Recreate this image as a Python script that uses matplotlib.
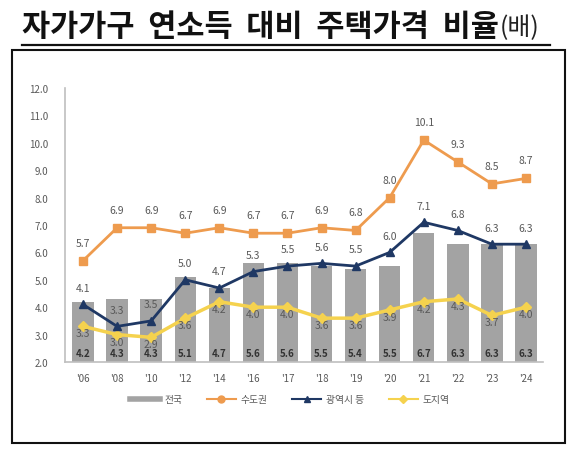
import matplotlib
matplotlib.use('Agg')
import matplotlib.pyplot as plt
import numpy as np
from matplotlib.lines import Line2D
from matplotlib.patches import Rectangle

plt.rcParams['font.family'] = ['Noto Sans CJK KR', 'DejaVu Sans']

# data
years = ["'06", "'08", "'10", "'12", "'14", "'16", "'17", "'18", "'19", "'20", "'21", "'22", "'23", "'24"]
nation = [4.2, 4.3, 4.3, 5.1, 4.7, 5.6, 5.6, 5.5, 5.4, 5.5, 6.7, 6.3, 6.3, 6.3]
capital = [5.7, 6.9, 6.9, 6.7, 6.9, 6.7, 6.7, 6.9, 6.8, 8.0, 10.1, 9.3, 8.5, 8.7]
metro = [4.1, 3.3, 3.5, 5.0, 4.7, 5.3, 5.5, 5.6, 5.5, 6.0, 7.1, 6.8, 6.3, 6.3]
province = [3.3, 3.0, 2.9, 3.6, 4.2, 4.0, 4.0, 3.6, 3.6, 3.9, 4.2, 4.3, 3.7, 4.0]

c_bar = '#a3a3a3'
c_cap = '#ee9b4e'
c_met = '#1f3864'
c_pro = '#f5d24e'
c_txt = '#595959'

fig = plt.figure(figsize=(5.68, 4.6), dpi=100)
ax = fig.add_axes([65/568, 1-363/460, (543-65)/568, (363-89)/460])

x = np.arange(len(years))
ax.bar(x, np.array(nation) - 2, bottom=2, width=0.63, color=c_bar, zorder=1)
ax.plot(x, capital, color=c_cap, lw=2, marker='s', ms=6, zorder=3)
ax.plot(x, metro, color=c_met, lw=2, marker='^', ms=6, zorder=3)
ax.plot(x, province, color=c_pro, lw=2.5, marker='D', ms=5, zorder=2)

# data labels
for i in range(len(years)):
    ax.text(x[i], 2.32, f'{nation[i]:.1f}', ha='center', va='center', fontsize=7,
            color='#333333', fontweight='bold', zorder=4)
    ax.annotate(f'{capital[i]:.1f}', (x[i], capital[i]), xytext=(0, 13), textcoords='offset points',
                ha='center', va='center', fontsize=7.5, color=c_txt, zorder=4)
    ax.annotate(f'{metro[i]:.1f}', (x[i], metro[i]), xytext=(0, 12), textcoords='offset points',
                ha='center', va='center', fontsize=7.5, color=c_txt, zorder=4)
    ax.annotate(f'{province[i]:.1f}', (x[i], province[i]), xytext=(0, -5), textcoords='offset points',
                ha='center', va='center', fontsize=7.5, color=c_txt, zorder=4)

ax.set_xlim(-0.53, 13.5)
ax.set_ylim(2, 12)
ax.set_yticks(np.arange(2, 12.1, 1))
ax.set_yticklabels([f'{v:.1f}' for v in np.arange(2, 12.1, 1)])
ax.set_xticks(x)
ax.set_xticklabels(years)
ax.tick_params(axis='both', length=0, labelsize=7, colors=c_txt)
ax.tick_params(axis='y', pad=12)
ax.tick_params(axis='x', pad=8)
for s in ['top', 'right']:
    ax.spines[s].set_visible(False)
ax.spines['left'].set_color('#bfbfbf')
ax.spines['bottom'].set_color('#bfbfbf')
ax.spines['left'].set_linewidth(1.2)
ax.spines['bottom'].set_linewidth(1.2)

handles = [
    Line2D([], [], color=c_bar, lw=4),
    Line2D([], [], color=c_cap, lw=1.5, marker='o', ms=5),
    Line2D([], [], color=c_met, lw=1.5, marker='^', ms=5),
    Line2D([], [], color=c_pro, lw=1.5, marker='D', ms=4),
]
fig.legend(handles, ['전국', '수도권', '광역시 등', '도지역'], loc='center',
           bbox_to_anchor=(290/568, 1-400/460), ncol=4, frameon=False, fontsize=7,
           labelcolor=c_txt, handlelength=3, columnspacing=2.5, handletextpad=0.5)

# title with underline
t = fig.text(22/568, 1-27/460, '자가가구  연소득  대비  주택가격  비율', fontsize=22, fontweight='bold',
             ha='left', va='center', color='#111111')
fig.canvas.draw()
bb = t.get_window_extent()
fig.text((bb.x1 + 1)/568, 1-28/460, '(배)', fontsize=18, ha='left', va='center', color='#222222')
fig.add_artist(Line2D([22/568, 550/568], [1-46/460, 1-46/460], color='#111111', lw=1.6,
                      transform=fig.transFigure))

# outer box
fig.add_artist(Rectangle((12/568, 1-444/460), (565-12)/568, (444-51)/460, fill=False,
                         edgecolor='#111111', lw=1.5, transform=fig.transFigure))

fig.savefig('out.png', dpi=100)
